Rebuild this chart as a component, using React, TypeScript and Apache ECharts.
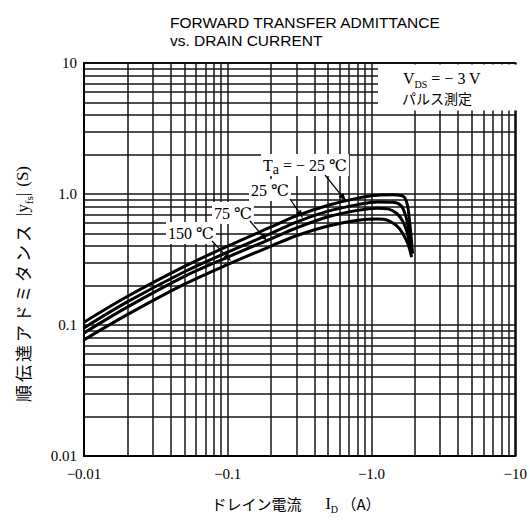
import React, { useEffect, useRef } from 'react';
import * as echarts from 'echarts';

// ---- data ----
const ta_m25_I = [0.01, 0.02, 0.05, 0.1, 0.2, 0.3, 0.5, 0.8, 1.1, 1.4, 1.6, 1.7, 1.78, 1.84, 1.89, 1.93];
const ta_m25_Y = [0.105, 0.165, 0.28, 0.4, 0.56, 0.68, 0.82, 0.93, 0.98, 0.985, 0.975, 0.94, 0.82, 0.62, 0.46, 0.35];

const ta_25_I = [0.01, 0.02, 0.05, 0.1, 0.2, 0.3, 0.5, 0.8, 1.1, 1.4, 1.6, 1.7, 1.78, 1.85, 1.9];
const ta_25_Y = [0.095, 0.15, 0.255, 0.36, 0.5, 0.61, 0.74, 0.83, 0.87, 0.865, 0.82, 0.72, 0.6, 0.46, 0.36];

const ta_75_I = [0.01, 0.02, 0.05, 0.1, 0.2, 0.3, 0.5, 0.8, 1.1, 1.3, 1.5, 1.65, 1.76, 1.84, 1.89];
const ta_75_Y = [0.087, 0.137, 0.235, 0.33, 0.455, 0.55, 0.67, 0.75, 0.78, 0.77, 0.71, 0.62, 0.52, 0.42, 0.35];

const ta_150_I = [0.01, 0.02, 0.05, 0.1, 0.2, 0.3, 0.5, 0.8, 1.1, 1.3, 1.5, 1.65, 1.8, 1.9];
const ta_150_Y = [0.077, 0.12, 0.205, 0.29, 0.4, 0.48, 0.57, 0.63, 0.645, 0.63, 0.57, 0.5, 0.41, 0.33];

const xTickLabels = ['−0.01', '−0.1', '−1.0', '−10'];
const yTickLabels = ['0.01', '0.1', '1.0', '10'];
const decadeStarts = [0.01, 0.1, 1];
const minorMultipliers = [2, 3, 4, 5, 6, 7, 8, 9];

const SERIF = '"Liberation Serif", "DejaVu Serif", "Noto Sans CJK JP", serif';
const CJK = '"Noto Sans CJK JP", "Liberation Serif", serif';
const SANS = '"Liberation Sans", Arial, sans-serif';

function zip(a: number[], b: number[]) {
  return a.map((v, i) => [v, b[i]]);
}

function arrow(x1: number, y1: number, x2: number, y2: number) {
  const ang = Math.atan2(y2 - y1, x2 - x1);
  const L = 8, W = 3;
  const bx = x2 - L * Math.cos(ang), by = y2 - L * Math.sin(ang);
  const px = -Math.sin(ang) * W, py = Math.cos(ang) * W;
  return [
    { type: 'line', z: 101, shape: { x1, y1, x2: bx, y2: by }, style: { stroke: '#000', lineWidth: 1.2 } },
    { type: 'polygon', z: 101, shape: { points: [[x2, y2], [bx + px, by + py], [bx - px, by - py]] }, style: { fill: '#000' } },
  ];
}

const rich = {
  n: { fontFamily: SERIF, fontSize: 16, lineHeight: 22, verticalAlign: 'middle', fill: '#000' },
  j: { fontFamily: CJK, fontSize: 15, lineHeight: 22, verticalAlign: 'middle', fill: '#000' },
  s: { fontFamily: SERIF, fontSize: 10, lineHeight: 10, verticalAlign: 'bottom', fill: '#000' },
  a: { fontFamily: SERIF, fontSize: 14, lineHeight: 12, verticalAlign: 'bottom', fill: '#000' },
};

const yRich = {
  j: { fontFamily: CJK, fontSize: 17, lineHeight: 24, verticalAlign: 'middle', fill: '#000' },
  g: { fontFamily: SERIF, fontSize: 12, lineHeight: 24, verticalAlign: 'middle', fill: '#000' },
  n: { fontFamily: SERIF, fontSize: 17, lineHeight: 24, verticalAlign: 'middle', fill: '#000' },
  s: { fontFamily: SERIF, fontSize: 11, lineHeight: 11, verticalAlign: 'bottom', fill: '#000' },
};

const yTitleJa = '順伝達アドミタンス';

export default function App() {
  const ref = useRef<HTMLDivElement>(null);
  useEffect(() => {
    if (!ref.current) return;
    const chart = echarts.init(ref.current, undefined, { renderer: 'svg' });
    const gridColor = '#141414';
    const minorVals: number[] = [];
    decadeStarts.forEach((d) => minorMultipliers.forEach((m) => minorVals.push(+(d * m).toPrecision(3))));

    const curveStyle = (name: string, I: number[], Y: number[]) => ({
      name,
      type: 'line',
      data: zip(I, Y),
      smooth: 0.35,
      symbol: 'none',
      z: 5,
      lineStyle: { color: '#000', width: 3 },
    });

    const yTitle =
      yTitleJa.split('').map((c) => `{j|${c}}`).join('{g| }') + '{g|   }{n||y}{s|fs}{n||}{g|  }{n|(S)}';

    const option: any = {
      animation: false,
      backgroundColor: '#fff',
      grid: { left: 84, right: 9, top: 63, bottom: 71, show: true, borderColor: '#000', borderWidth: 2, backgroundColor: 'transparent' },
      xAxis: {
        type: 'log',
        logBase: 10,
        min: 0.01,
        max: 10,
        axisLine: { show: true, lineStyle: { color: '#000', width: 2 } },
        axisTick: { show: false },
        splitLine: { show: true, lineStyle: { color: gridColor, width: 1.5 } },
        axisLabel: {
          margin: 10,
          fontFamily: SERIF,
          fontSize: 15,
          color: '#000',
          formatter: (v: number) => xTickLabels[Math.round(Math.log10(v)) + 2] ?? '',
        },
      },
      yAxis: {
        type: 'log',
        logBase: 10,
        min: 0.01,
        max: 10,
        axisLine: { show: true, lineStyle: { color: '#000', width: 2 } },
        axisTick: { show: false },
        splitLine: { show: true, lineStyle: { color: gridColor, width: 1.5 } },
        axisLabel: {
          margin: 7,
          fontFamily: SERIF,
          fontSize: 15,
          color: '#000',
          formatter: (v: number) => yTickLabels[Math.round(Math.log10(v)) + 2] ?? '',
        },
      },
      series: [
        {
          type: 'line',
          data: [[0.01, 0.01]],
          symbol: 'none',
          lineStyle: { opacity: 0 },
          silent: true,
          z: 1,
          markLine: {
            silent: true,
            symbol: 'none',
            label: { show: false },
            lineStyle: { color: gridColor, width: 1.5, type: 'solid' },
            data: [
              ...minorVals.map((v) => ({ xAxis: v })),
              ...minorVals.map((v) => ({ yAxis: v })),
            ],
          },
        },
        curveStyle('-25', ta_m25_I, ta_m25_Y),
        curveStyle('25', ta_25_I, ta_25_Y),
        curveStyle('75', ta_75_I, ta_75_Y),
        curveStyle('150', ta_150_I, ta_150_Y),
      ],
      graphic: [
        // title
        { type: 'text', x: 170, y: 22, z: 100, style: { text: 'FORWARD TRANSFER ADMITTANCE', fontFamily: SANS, fontSize: 15.5, fill: '#000', align: 'left', verticalAlign: 'middle' } },
        { type: 'text', x: 170, y: 40, z: 100, style: { text: 'vs. DRAIN CURRENT', fontFamily: SANS, fontSize: 15.5, fill: '#000', align: 'left', verticalAlign: 'middle' } },
        // condition box
        { type: 'rect', z: 100, shape: { x: 378, y: 64.5, width: 142, height: 46 }, style: { fill: '#fff' } },
        { type: 'text', x: 403, y: 78, z: 101, style: { text: '{n|V}{s|DS}{n| = − 3 V}', rich, align: 'left', verticalAlign: 'middle' } },
        { type: 'text', x: 402, y: 98, z: 101, style: { text: 'パルス測定', fontFamily: CJK, fontSize: 14, fill: '#000', align: 'left', verticalAlign: 'middle' } },
        // curve labels
        { type: 'text', x: 261, y: 165, z: 101, style: { text: '{n|T}{a|a}{n| = − 25 ℃}', rich, align: 'left', verticalAlign: 'middle', backgroundColor: '#fff', padding: [0, 2] } },
        { type: 'text', x: 249, y: 190, z: 101, style: { text: '{n|25 ℃}', rich, align: 'left', verticalAlign: 'middle', backgroundColor: '#fff', padding: [0, 2] } },
        { type: 'text', x: 212, y: 213, z: 101, style: { text: '{n|75 ℃}', rich, align: 'left', verticalAlign: 'middle', backgroundColor: '#fff', padding: [0, 2] } },
        { type: 'text', x: 166, y: 233, z: 101, style: { text: '{n|150 ℃}', rich, align: 'left', verticalAlign: 'middle', backgroundColor: '#fff', padding: [0, 2] } },
        ...arrow(325, 175, 346, 201),
        ...arrow(290, 199, 303, 218),
        ...arrow(250, 221, 267, 241),
        ...arrow(212, 241, 231, 261),
        // axis titles
        {
          type: 'text', x: 296, y: 503, z: 101,
          style: { text: '{j|ドレイン電流}{n|      I}{s|D}{j| （A）}', rich, align: 'center', verticalAlign: 'middle' },
        },
        {
          type: 'text', x: 22, y: 284, z: 101, rotation: Math.PI / 2,
          style: { text: yTitle, rich: yRich, align: 'center', verticalAlign: 'middle' },
        },
      ],
    };
    chart.setOption(option);
    return () => chart.dispose();
  }, []);
  return <div ref={ref} style={{ position: 'fixed', left: 0, top: 0, width: 530, height: 527, background: '#fff' }} />;
}
